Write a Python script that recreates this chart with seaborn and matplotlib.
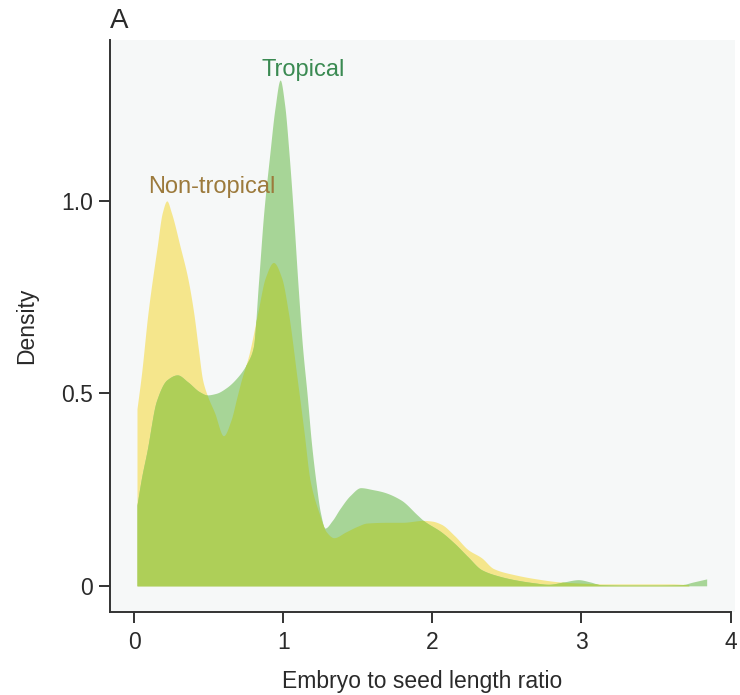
import numpy as np
import pandas as pd
import matplotlib
matplotlib.use("Agg")
import matplotlib.pyplot as plt
import seaborn as sns

# ---- data (density curves) ----
nontrop_x = [0.02, 0.05, 0.094, 0.155, 0.19, 0.22, 0.25, 0.31, 0.36, 0.40, 0.43, 0.46,
             0.49, 0.54, 0.60, 0.65, 0.69, 0.72, 0.77, 0.83, 0.88, 0.935, 0.99, 1.035,
             1.095, 1.14, 1.18, 1.24, 1.29, 1.34, 1.42, 1.50, 1.56, 1.70, 1.80, 1.94,
             2.00, 2.06, 2.15, 2.24, 2.33, 2.41, 2.55, 2.70, 2.86, 3.00, 3.15, 3.40,
             3.60, 3.72]
nontrop_y = [0.46, 0.55, 0.71, 0.88, 0.97, 1.00, 0.97, 0.88, 0.80, 0.71, 0.62, 0.535,
             0.496, 0.45, 0.39, 0.43, 0.49, 0.535, 0.60, 0.71, 0.80, 0.84, 0.80, 0.71,
             0.535, 0.40, 0.275, 0.19, 0.14, 0.125, 0.14, 0.155, 0.163, 0.165, 0.165, 0.17,
             0.168, 0.16, 0.13, 0.094, 0.073, 0.045, 0.029, 0.018, 0.010, 0.007, 0.005, 0.005,
             0.005, 0.003]

trop_x = [0.02, 0.05, 0.087, 0.15, 0.22, 0.29, 0.36, 0.44, 0.49, 0.55, 0.62, 0.70,
          0.76, 0.80, 0.835, 0.87, 0.91, 0.945, 0.98, 1.01, 1.04, 1.07, 1.10, 1.13,
          1.16, 1.19, 1.22, 1.25, 1.28, 1.33, 1.38, 1.45, 1.52, 1.60, 1.67, 1.79,
          1.90, 1.94, 2.06, 2.15, 2.24, 2.33, 2.45, 2.55, 2.68, 2.78, 2.88, 2.98,
          3.06, 3.13, 3.30, 3.50, 3.67, 3.75, 3.84]
trop_y = [0.21, 0.28, 0.35, 0.48, 0.535, 0.548, 0.53, 0.504, 0.496, 0.50, 0.515, 0.545,
          0.58, 0.62, 0.79, 0.97, 1.12, 1.24, 1.314, 1.25, 1.12, 0.96, 0.78, 0.62,
          0.50, 0.37, 0.27, 0.19, 0.15, 0.17, 0.20, 0.235, 0.255, 0.25, 0.244, 0.223,
          0.184, 0.17, 0.14, 0.11, 0.075, 0.042, 0.025, 0.016, 0.008, 0.004, 0.010, 0.016,
          0.010, 0.003, 0.002, 0.002, 0.003, 0.010, 0.018]

group_labels = ["Non-tropical", "Tropical"]
x_ticks = [0, 1, 2, 3, 4]
x_ticklabels = ["0", "1", "2", "3", "4"]
y_ticks = [0, 0.5, 1.0]
y_ticklabels = ["0", "0.5", "1.0"]


def pchip(x, y, xn):
    """Monotone cubic Hermite interpolation (Fritsch-Carlson) for smooth rendering."""
    x = np.asarray(x, float)
    y = np.asarray(y, float)
    h = np.diff(x)
    d = np.diff(y) / h
    m = np.zeros_like(y)
    for k in range(1, len(x) - 1):
        if d[k - 1] * d[k] <= 0:
            m[k] = 0.0
        else:
            w1 = 2 * h[k] + h[k - 1]
            w2 = h[k] + 2 * h[k - 1]
            m[k] = (w1 + w2) / (w1 / d[k - 1] + w2 / d[k])
    m[0] = d[0]
    m[-1] = d[-1]
    idx = np.clip(np.searchsorted(x, xn) - 1, 0, len(x) - 2)
    t = (xn - x[idx]) / h[idx]
    h00 = 2 * t**3 - 3 * t**2 + 1
    h10 = t**3 - 2 * t**2 + t
    h01 = -2 * t**3 + 3 * t**2
    h11 = t**3 - t**2
    out = h00 * y[idx] + h10 * h[idx] * m[idx] + h01 * y[idx + 1] + h11 * h[idx] * m[idx + 1]
    out[(xn < x[0]) | (xn > x[-1])] = np.nan
    return np.maximum(out, 0)


# ---- style ----
sns.set_theme(style="ticks")
plt.rcParams["font.family"] = ["Liberation Sans", "DejaVu Sans"]

col_yellow = "#f5e68c"
col_green = "#a7d597"
col_overlap = "#aecf58"
bg = "#f6f8f8"
dark = "#333333"
txt = "#2a2a2a"

fig = plt.figure(figsize=(7.4, 6.95), dpi=100)
ax = fig.add_axes([110 / 740, (695 - 612) / 695, 625 / 740, 572 / 695])
ax.set_facecolor(bg)

df_n = pd.DataFrame({"x": nontrop_x, "y": nontrop_y})
df_t = pd.DataFrame({"x": trop_x, "y": trop_y})
xx = np.linspace(min(df_n.x.min(), df_t.x.min()), max(df_n.x.max(), df_t.x.max()), 2000)
yn = pchip(df_n.x, df_n.y, xx)
yt = pchip(df_t.x, df_t.y, xx)
yn_f = np.nan_to_num(yn)
yt_f = np.nan_to_num(yt)

ax.fill_between(xx, 0, yn_f, where=~np.isnan(yn), color=col_yellow, lw=0)
ax.fill_between(xx, 0, yt_f, where=~np.isnan(yt), color=col_green, lw=0)
ax.fill_between(xx, 0, np.minimum(yn_f, yt_f), color=col_overlap, lw=0)

ax.set_xlim(-0.161, 4.03)
ax.set_ylim(-0.068, 1.418)

ax.set_xticks(x_ticks)
ax.set_xticklabels(x_ticklabels)
ax.set_yticks(y_ticks)
ax.set_yticklabels(y_ticklabels)

sns.despine(ax=ax)
for s in ["left", "bottom"]:
    ax.spines[s].set_color(dark)
    ax.spines[s].set_linewidth(1.4)
ax.spines["bottom"].set_bounds(-0.161, 4)
ax.tick_params(axis="both", colors=dark, labelcolor=txt, length=8, width=1.4,
               labelsize=16.5)
ax.tick_params(axis="y", pad=4.5)
ax.tick_params(axis="x", pad=5.5)

ax.set_xlabel("Embryo to seed length ratio", fontsize=16.5, color=txt, labelpad=12)
ax.set_ylabel("Density", fontsize=16.5, color=txt, labelpad=16)

# group labels
ax.text(1.136, 1.325, group_labels[1], color="#3a8a52", fontsize=17,
        ha="center", va="baseline")
ax.text(0.524, 1.02, group_labels[0], color="#9c7a3c", fontsize=17,
        ha="center", va="baseline")

fig.text(110 / 740, 1 - 28 / 695, "A", fontsize=20, color=txt, ha="left", va="baseline")

fig.savefig("out.png", dpi=100, facecolor="white")
